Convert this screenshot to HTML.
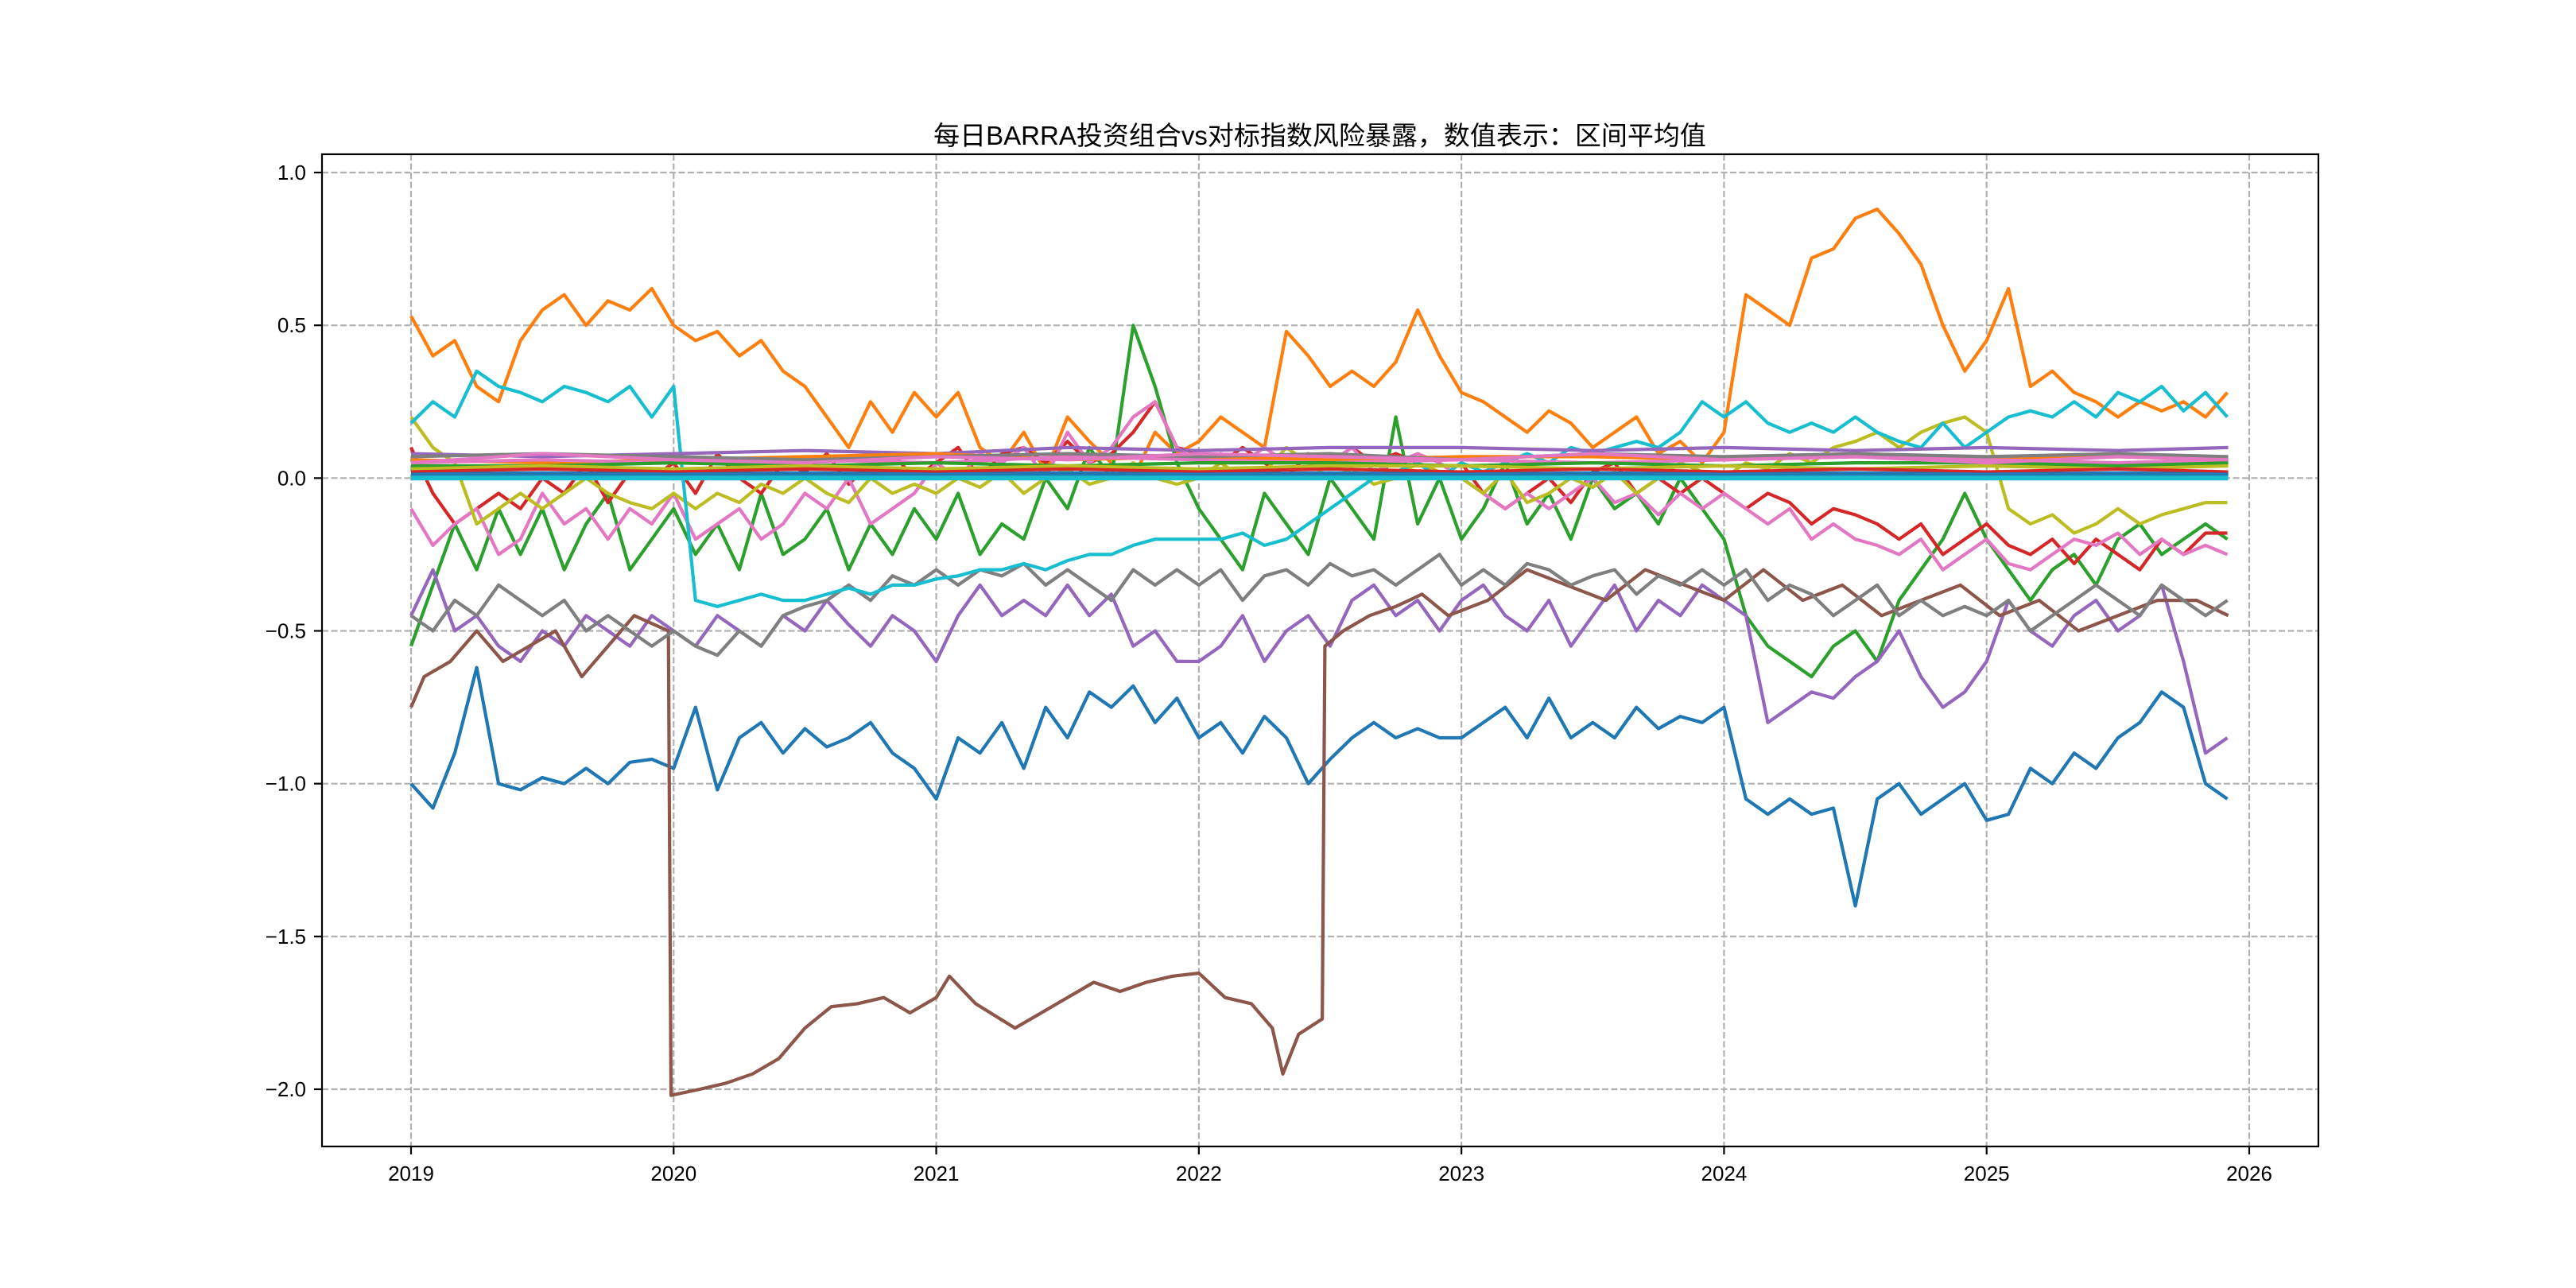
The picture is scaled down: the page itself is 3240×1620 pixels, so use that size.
<!DOCTYPE html>
<html><head><meta charset="utf-8"><title>BARRA exposure</title>
<style>
html,body{margin:0;padding:0;background:#fff;}
svg{display:block;}
text{font-family:"Liberation Sans","WenQuanYi Zen Hei","Noto Sans CJK SC",sans-serif;fill:#000;}
</style></head>
<body>
<svg id="chart" width="3240" height="1620" viewBox="0 0 3240 1620" xmlns="http://www.w3.org/2000/svg">
<rect x="0" y="0" width="3240" height="1620" fill="#fff"/>
<text x="1660" y="182" font-size="33" text-anchor="middle">每日BARRA投资组合vs对标指数风险暴露，数值表示：区间平均值</text>
<g id="grid"></g>
<g id="series"></g>
<g id="axes"></g>
</svg>
<script>
const xTicks = [2019,2020,2021,2022,2023,2024,2025,2026];
const yTicks = [1.0,0.5,0.0,-0.5,-1.0,-1.5,-2.0];
const yTickLabels = ["1.0","0.5","0.0","\u22120.5","\u22121.0","\u22121.5","\u22122.0"];
const startYear = 2019;
const monthsPerYear = 12;

const blueVals = [-1.0,-1.08,-0.9,-0.62,-1.0,-1.02,-0.98,-1.0,-0.95,-1.0,-0.93,-0.92,
-0.95,-0.75,-1.02,-0.85,-0.8,-0.9,-0.82,-0.88,-0.85,-0.8,-0.9,-0.95,
-1.05,-0.85,-0.9,-0.8,-0.95,-0.75,-0.85,-0.7,-0.75,-0.68,-0.8,-0.72,
-0.85,-0.8,-0.9,-0.78,-0.85,-1.0,-0.92,-0.85,-0.8,-0.85,-0.82,-0.85,
-0.85,-0.8,-0.75,-0.85,-0.72,-0.85,-0.8,-0.85,-0.75,-0.82,-0.78,-0.8,
-0.75,-1.05,-1.1,-1.05,-1.1,-1.08,-1.4,-1.05,-1.0,-1.1,-1.05,-1.0,
-1.12,-1.1,-0.95,-1.0,-0.9,-0.95,-0.85,-0.8,-0.7,-0.75,-1.0,-1.05];
const orangeVals = [0.53,0.4,0.45,0.3,0.25,0.45,0.55,0.6,0.5,0.58,0.55,0.62,
0.5,0.45,0.48,0.4,0.45,0.35,0.3,0.2,0.1,0.25,0.15,0.28,
0.2,0.28,0.1,0.05,0.15,0.02,0.2,0.12,0.05,0.0,0.15,0.08,
0.12,0.2,0.15,0.1,0.48,0.4,0.3,0.35,0.3,0.38,0.55,0.4,
0.28,0.25,0.2,0.15,0.22,0.18,0.1,0.15,0.2,0.08,0.12,0.05,
0.15,0.6,0.55,0.5,0.72,0.75,0.85,0.88,0.8,0.7,0.5,0.35,
0.45,0.62,0.3,0.35,0.28,0.25,0.2,0.25,0.22,0.25,0.2,0.28];
const greenVals = [-0.55,-0.35,-0.15,-0.3,-0.1,-0.25,-0.1,-0.3,-0.15,-0.05,-0.3,-0.2,
-0.1,-0.25,-0.15,-0.3,-0.05,-0.25,-0.2,-0.1,-0.3,-0.15,-0.25,-0.1,
-0.2,-0.05,-0.25,-0.15,-0.2,0.0,-0.1,0.1,0.0,0.5,0.3,0.05,
-0.1,-0.2,-0.3,-0.05,-0.15,-0.25,0.0,-0.1,-0.2,0.2,-0.15,0.0,
-0.2,-0.1,0.05,-0.15,-0.05,-0.2,0.0,-0.1,-0.05,-0.15,0.0,-0.1,
-0.2,-0.45,-0.55,-0.6,-0.65,-0.55,-0.5,-0.6,-0.4,-0.3,-0.2,-0.05,
-0.2,-0.3,-0.4,-0.3,-0.25,-0.35,-0.2,-0.15,-0.25,-0.2,-0.15,-0.2];
const redVals = [0.1,-0.05,-0.15,-0.1,-0.05,-0.1,0.0,-0.05,0.05,-0.08,0.02,0.0,
0.05,-0.05,0.08,0.0,-0.05,0.05,0.02,0.08,-0.02,0.05,0.08,0.0,
0.05,0.1,0.0,0.08,0.1,0.05,0.12,0.05,0.08,0.15,0.25,0.1,
0.08,0.05,0.1,0.05,0.0,0.08,0.05,0.1,0.05,0.08,0.05,0.0,
0.05,-0.05,-0.1,-0.05,0.0,-0.08,0.02,0.05,-0.05,0.0,-0.05,0.0,
-0.05,-0.1,-0.05,-0.08,-0.15,-0.1,-0.12,-0.15,-0.2,-0.15,-0.25,-0.2,
-0.15,-0.22,-0.25,-0.2,-0.28,-0.2,-0.25,-0.3,-0.2,-0.25,-0.18,-0.18];
const purpleVals = [-0.45,-0.3,-0.5,-0.45,-0.55,-0.6,-0.5,-0.55,-0.45,-0.5,-0.55,-0.45,
-0.5,-0.55,-0.45,-0.5,-0.55,-0.45,-0.5,-0.4,-0.48,-0.55,-0.45,-0.5,
-0.6,-0.45,-0.35,-0.45,-0.4,-0.45,-0.35,-0.45,-0.38,-0.55,-0.5,-0.6,
-0.6,-0.55,-0.45,-0.6,-0.5,-0.45,-0.55,-0.4,-0.35,-0.45,-0.4,-0.5,
-0.4,-0.35,-0.45,-0.5,-0.4,-0.55,-0.45,-0.35,-0.5,-0.4,-0.45,-0.35,
-0.4,-0.45,-0.8,-0.75,-0.7,-0.72,-0.65,-0.6,-0.5,-0.65,-0.75,-0.7,
-0.6,-0.4,-0.5,-0.55,-0.45,-0.4,-0.5,-0.45,-0.35,-0.6,-0.9,-0.85];
const pinkVals = [-0.1,-0.22,-0.15,-0.1,-0.25,-0.2,-0.05,-0.15,-0.1,-0.2,-0.1,-0.15,
-0.05,-0.2,-0.15,-0.1,-0.2,-0.15,-0.05,-0.1,0.0,-0.15,-0.1,-0.05,
0.05,0.0,0.08,0.05,0.1,0.0,0.15,0.05,0.1,0.2,0.25,0.1,
0.05,0.08,0.05,0.1,0.05,0.08,0.05,0.1,0.02,0.05,0.08,0.05,
0.0,-0.05,-0.1,-0.05,-0.1,-0.05,0.0,-0.08,-0.05,-0.12,-0.05,-0.1,
-0.05,-0.1,-0.15,-0.1,-0.2,-0.15,-0.2,-0.22,-0.25,-0.2,-0.3,-0.25,
-0.2,-0.28,-0.3,-0.25,-0.2,-0.22,-0.18,-0.25,-0.2,-0.25,-0.22,-0.25];
const grayVals = [-0.45,-0.5,-0.4,-0.45,-0.35,-0.4,-0.45,-0.4,-0.5,-0.45,-0.5,-0.55,
-0.5,-0.55,-0.58,-0.5,-0.55,-0.45,-0.42,-0.4,-0.35,-0.4,-0.32,-0.35,
-0.3,-0.35,-0.3,-0.32,-0.28,-0.35,-0.3,-0.35,-0.4,-0.3,-0.35,-0.3,
-0.35,-0.3,-0.4,-0.32,-0.3,-0.35,-0.28,-0.32,-0.3,-0.35,-0.3,-0.25,
-0.35,-0.3,-0.35,-0.28,-0.3,-0.35,-0.32,-0.3,-0.38,-0.32,-0.35,-0.3,
-0.35,-0.3,-0.4,-0.35,-0.38,-0.45,-0.4,-0.35,-0.45,-0.4,-0.45,-0.42,
-0.45,-0.4,-0.5,-0.45,-0.4,-0.35,-0.4,-0.45,-0.35,-0.4,-0.45,-0.4];
const oliveVals = [0.2,0.1,0.05,-0.15,-0.1,-0.05,-0.1,-0.05,0.0,-0.05,-0.08,-0.1,
-0.05,-0.1,-0.05,-0.08,-0.02,-0.05,0.0,-0.05,-0.08,0.0,-0.05,-0.02,
-0.05,0.0,-0.03,0.02,-0.05,0.0,0.03,-0.02,0.0,0.05,0.0,-0.02,
0.0,0.05,0.0,0.02,0.1,0.05,0.0,0.03,-0.02,0.0,0.05,0.02,
0.0,-0.05,0.02,-0.08,-0.05,0.0,-0.03,0.02,-0.05,0.0,0.05,0.02,
0.0,0.05,0.03,0.08,0.05,0.1,0.12,0.15,0.1,0.15,0.18,0.2,
0.15,-0.1,-0.15,-0.12,-0.18,-0.15,-0.1,-0.15,-0.12,-0.1,-0.08,-0.08];
const cyanVals = [0.18,0.25,0.2,0.35,0.3,0.28,0.25,0.3,0.28,0.25,0.3,0.2,
0.3,-0.4,-0.42,-0.4,-0.38,-0.4,-0.4,-0.38,-0.36,-0.38,-0.35,-0.35,
-0.33,-0.32,-0.3,-0.3,-0.28,-0.3,-0.27,-0.25,-0.25,-0.22,-0.2,-0.2,
-0.2,-0.2,-0.18,-0.22,-0.2,-0.15,-0.1,-0.05,0.0,0.02,0.05,0.0,
0.05,0.02,0.05,0.08,0.05,0.1,0.08,0.1,0.12,0.1,0.15,0.25,
0.2,0.25,0.18,0.15,0.18,0.15,0.2,0.15,0.12,0.1,0.18,0.1,
0.15,0.2,0.22,0.2,0.25,0.2,0.28,0.25,0.3,0.22,0.28,0.2];

const brownDates = [2019.0,2019.05,2019.15,2019.25,2019.35,2019.45,2019.55,2019.65,2019.75,2019.85,2019.98,2019.99,
2020.1,2020.2,2020.3,2020.4,2020.5,2020.6,2020.7,2020.8,2020.9,2021.0,2021.05,2021.15,2021.3,2021.4,2021.5,2021.6,2021.7,2021.8,2021.9,2022.0,2022.1,2022.2,2022.28,2022.32,2022.38,2022.47,2022.48,
2022.55,2022.65,2022.75,2022.85,2022.95,2023.1,2023.25,2023.4,2023.55,2023.7,2023.85,2024.0,2024.15,2024.3,2024.45,2024.6,2024.75,2024.9,2025.05,2025.2,2025.35,2025.5,2025.65,2025.8,2025.92];
const brownVals = [-0.75,-0.65,-0.6,-0.5,-0.6,-0.55,-0.5,-0.65,-0.55,-0.45,-0.5,-2.02,
-2.0,-1.98,-1.95,-1.9,-1.8,-1.73,-1.72,-1.7,-1.75,-1.7,-1.63,-1.72,-1.8,-1.75,-1.7,-1.65,-1.68,-1.65,-1.63,-1.62,-1.7,-1.72,-1.8,-1.95,-1.82,-1.77,-0.55,
-0.5,-0.45,-0.42,-0.38,-0.45,-0.4,-0.3,-0.35,-0.4,-0.3,-0.35,-0.4,-0.3,-0.4,-0.35,-0.45,-0.4,-0.35,-0.45,-0.4,-0.5,-0.45,-0.4,-0.4,-0.45];

// near-zero cluster, semi-annual samples 2019.0 .. 2025.92
const clusterDates = [2019.0,2019.5,2020.0,2020.5,2021.0,2021.5,2022.0,2022.5,2023.0,2023.5,2024.0,2024.5,2025.0,2025.5,2025.92];
const cluster1 = [0.08,0.07,0.08,0.09,0.08,0.1,0.09,0.1,0.1,0.09,0.1,0.09,0.1,0.09,0.1];
const cluster2 = [0.06,0.05,0.06,0.07,0.08,0.06,0.07,0.06,0.07,0.07,0.06,0.07,0.06,0.07,0.06];
const cluster3 = [0.05,0.06,0.05,0.06,0.05,0.07,0.06,0.05,0.06,0.05,0.06,0.07,0.06,0.05,0.06];
const cluster4 = [0.04,0.04,0.05,0.04,0.05,0.04,0.05,0.05,0.04,0.05,0.04,0.05,0.05,0.04,0.05];
const cluster5 = [0.03,0.04,0.03,0.04,0.03,0.04,0.03,0.04,0.04,0.03,0.04,0.03,0.04,0.03,0.04];
const cluster6 = [0.07,0.08,0.07,0.06,0.07,0.08,0.07,0.08,0.06,0.08,0.07,0.08,0.07,0.08,0.07];
const cluster7 = [0.02,0.03,0.02,0.03,0.02,0.03,0.02,0.03,0.02,0.03,0.02,0.03,0.02,0.03,0.02];
const cluster8 = [0.05,0.08,0.06,0.05,0.07,0.06,0.08,0.07,0.06,0.08,0.06,0.07,0.05,0.07,0.06];
const cluster9 = [0.01,0.015,0.01,0.015,0.01,0.015,0.01,0.015,0.01,0.015,0.01,0.015,0.01,0.015,0.01];
const cluster10 = [0.0,0.0,0.0,0.0,0.0,0.0,0.0,0.0,0.0,0.0,0.0,0.0,0.0,0.0,0.0];

const AX = {left:405, right:2916, top:194, bottom:1442};
function xScale(t){ return 517 + (t - 2019) * (2829 - 517) / 7; }
function yScale(v){ return 217 + (1.0 - v) * (1370 - 217) / 3.0; }
const NS = "http://www.w3.org/2000/svg";

const grid = document.getElementById('grid');
xTicks.forEach(function(t){
  const l = document.createElementNS(NS,'line');
  
  
  l.setAttribute('x1',xScale(t)); l.setAttribute('x2',xScale(t));
  l.setAttribute('y1',AX.top); l.setAttribute('y2',AX.bottom);
  l.setAttribute('stroke','#b0b0b0'); l.setAttribute('stroke-width','2.2'); l.setAttribute('stroke-dasharray','8,3.5');
  grid.appendChild(l);
});
yTicks.forEach(function(v){
  const l = document.createElementNS(NS,'line');
  
  
  l.setAttribute('x1',AX.left); l.setAttribute('x2',AX.right);
  l.setAttribute('y1',yScale(v)); l.setAttribute('y2',yScale(v));
  l.setAttribute('stroke','#b0b0b0'); l.setAttribute('stroke-width','2.2'); l.setAttribute('stroke-dasharray','8,3.5');
  grid.appendChild(l);
});

const seriesG = document.getElementById('series');
function monthlyDates(vals){ return vals.map(function(_,i){ return startYear + i / monthsPerYear; }); }
function drawSeries(name, dates, vals, color, width){
  const p = document.createElementNS(NS,'polyline');
  
  
  p.setAttribute('points', vals.map(function(v,i){ return xScale(dates[i]).toFixed(1)+','+yScale(v).toFixed(1); }).join(' '));
  p.setAttribute('fill','none'); p.setAttribute('stroke',color);
  p.setAttribute('stroke-width', width); p.setAttribute('stroke-linejoin','round');
  seriesG.appendChild(p);
}
drawSeries('series-blue', monthlyDates(blueVals), blueVals, '#1f77b4', 4.2);
drawSeries('series-orange', monthlyDates(orangeVals), orangeVals, '#ff7f0e', 4.2);
drawSeries('series-green', monthlyDates(greenVals), greenVals, '#2ca02c', 4.2);
drawSeries('series-red', monthlyDates(redVals), redVals, '#d62728', 4.2);
drawSeries('series-purple', monthlyDates(purpleVals), purpleVals, '#9467bd', 4.2);
drawSeries('series-brown', brownDates, brownVals, '#8c564b', 4.2);
drawSeries('series-pink', monthlyDates(pinkVals), pinkVals, '#e377c2', 4.2);
drawSeries('series-gray', monthlyDates(grayVals), grayVals, '#7f7f7f', 4.2);
drawSeries('series-olive', monthlyDates(oliveVals), oliveVals, '#bcbd22', 4.2);
drawSeries('series-cyan', monthlyDates(cyanVals), cyanVals, '#17becf', 4.2);
drawSeries('series-cluster-1', clusterDates, cluster1, '#9467bd', 4.2);
drawSeries('series-cluster-2', clusterDates, cluster2, '#ff7f0e', 4.2);
drawSeries('series-cluster-3', clusterDates, cluster3, '#e377c2', 4.2);
drawSeries('series-cluster-4', clusterDates, cluster4, '#2ca02c', 4.2);
drawSeries('series-cluster-5', clusterDates, cluster5, '#bcbd22', 4.2);
drawSeries('series-cluster-6', clusterDates, cluster6, '#7f7f7f', 4.2);
drawSeries('series-cluster-7', clusterDates, cluster7, '#d62728', 4.2);
drawSeries('series-cluster-8', clusterDates, cluster8, '#e377c2', 4.2);
drawSeries('series-cluster-9', clusterDates, cluster9, '#1f77b4', 6);
drawSeries('series-cluster-10', clusterDates, cluster10, '#17becf', 6);

const axes = document.getElementById('axes');
const frame = document.createElementNS(NS,'rect');


frame.setAttribute('x',AX.left); frame.setAttribute('y',AX.top);
frame.setAttribute('width',AX.right-AX.left); frame.setAttribute('height',AX.bottom-AX.top);
frame.setAttribute('fill','none'); frame.setAttribute('stroke','#000'); frame.setAttribute('stroke-width','2.2');
axes.appendChild(frame);
xTicks.forEach(function(t){
  const x = xScale(t);
  const tk = document.createElementNS(NS,'line');
  
  
  tk.setAttribute('x1',x); tk.setAttribute('x2',x); tk.setAttribute('y1',AX.bottom); tk.setAttribute('y2',AX.bottom+10);
  tk.setAttribute('stroke','#000'); tk.setAttribute('stroke-width','2.2');
  axes.appendChild(tk);
  const tx = document.createElementNS(NS,'text');
  
  
  tx.setAttribute('x',x); tx.setAttribute('y',AX.bottom+43);
  tx.setAttribute('font-size','26'); tx.setAttribute('text-anchor','middle');
  tx.textContent = String(t);
  axes.appendChild(tx);
});
yTicks.forEach(function(v,i){
  const y = yScale(v);
  const tk = document.createElementNS(NS,'line');
  
  
  tk.setAttribute('x1',AX.left-10); tk.setAttribute('x2',AX.left); tk.setAttribute('y1',y); tk.setAttribute('y2',y);
  tk.setAttribute('stroke','#000'); tk.setAttribute('stroke-width','2.2');
  axes.appendChild(tk);
  const tx = document.createElementNS(NS,'text');
  
  
  tx.setAttribute('x',AX.left-20); tx.setAttribute('y',y+9);
  tx.setAttribute('font-size','26'); tx.setAttribute('text-anchor','end');
  tx.textContent = yTickLabels[i];
  axes.appendChild(tx);
});
</script>
</body></html>
